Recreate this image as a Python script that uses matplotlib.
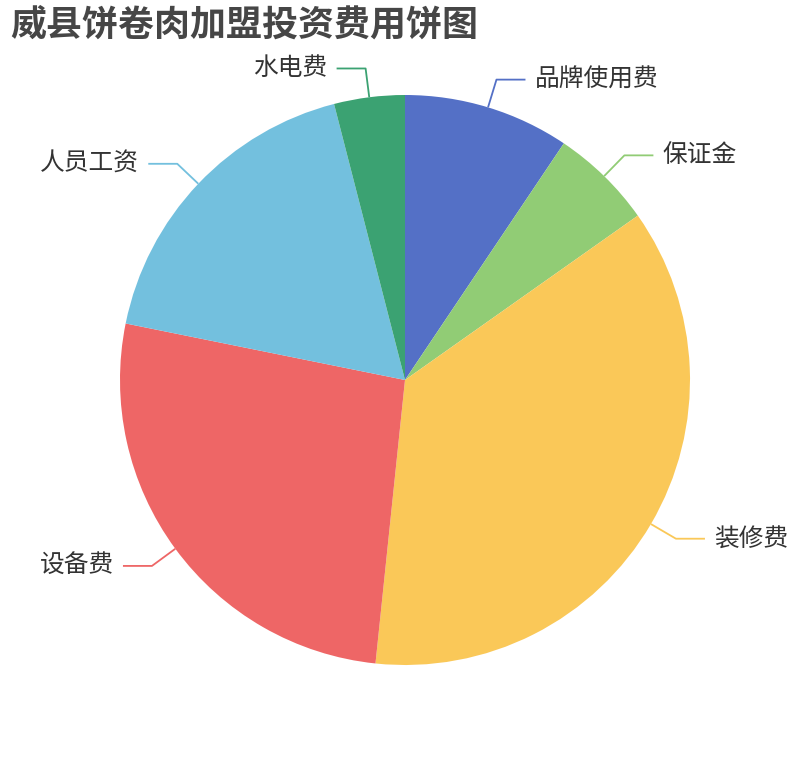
import numpy as np
import matplotlib
matplotlib.use("Agg")
import matplotlib.pyplot as plt

categories = ["品牌使用费", "保证金", "装修费", "设备费", "人员工资", "水电费"]
values = [9.4, 5.8, 36.4, 26.5, 17.8, 4.0]
colors = ["#5470c6", "#91cc75", "#fac858", "#ee6666", "#73c0de", "#3ba272"]
title = "威县饼卷肉加盟投资费用饼图"

plt.rcParams['font.family'] = ['Noto Sans CJK SC', 'DejaVu Sans']

W, H = 810, 760
fig = plt.figure(figsize=(W / 100, H / 100), dpi=100)
ax = fig.add_axes([0, 0, 1, 1])

cx, cy, R = 405, 380, 285
ax.pie(values, colors=colors, startangle=90, counterclock=False,
       center=(cx, cy), radius=R, frame=True,
       wedgeprops=dict(linewidth=0))
ax.set_xlim(0, W)
ax.set_ylim(0, H)
ax.set_aspect('equal')
ax.axis('off')

total = sum(values)
cum = 0.0
len1, len2, gap = 29, 29, 9
for name, v, c in zip(categories, values, colors):
    mid = (cum + v / 2) / total * 360.0  # clockwise from top
    cum += v
    th = np.deg2rad(mid)
    dx, dy = np.sin(th), np.cos(th)
    x0, y0 = cx + R * dx, cy + R * dy
    x1, y1 = cx + (R + len1) * dx, cy + (R + len1) * dy
    side = 1 if dx >= 0 else -1
    x2 = x1 + side * len2
    ax.plot([x0, x1, x2], [y0, y1, y1], color=c, lw=1.3, solid_capstyle='butt')
    ax.text(x2 + side * gap, y1, name, ha='left' if side > 0 else 'right',
            va='center', fontsize=17.8, color='#333333')

fig.text(10 / W, 1 - 25 / H, title, fontsize=25.9, fontweight='bold',
         color='#464646', ha='left', va='center')

fig.savefig("out.png", dpi=100)
